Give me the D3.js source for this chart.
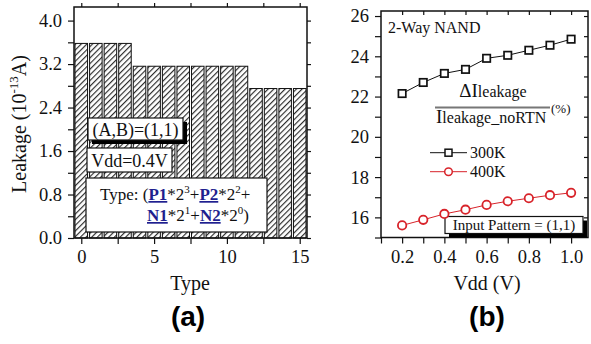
<!DOCTYPE html>
<html>
<head>
<meta charset="utf-8">
<script src="https://cdn.jsdelivr.net/npm/d3@7"></script>
<style>
  html, body { margin: 0; padding: 0; background: #fff; }
  svg { display: block; }
</style>
</head>
<body>
<script>
// ---- Panel (a): leakage per input type ----
const types = d3.range(16);
const leakage = [3.58, 3.58, 3.58, 3.58, 3.16, 3.16, 3.16, 3.16,
                 3.16, 3.16, 3.16, 3.16, 2.75, 2.75, 2.75, 2.75];
const typeTickLabels = [0, 5, 10, 15];
const leakTickLabels = ["0.0", "0.8", "1.6", "2.4", "3.2", "4.0"];

// ---- Panel (b): relative leakage change vs. Vdd ----
const vdd = [0.2, 0.3, 0.4, 0.5, 0.6, 0.7, 0.8, 0.9, 1.0];
const delta300K = [22.15, 22.7, 23.15, 23.35, 23.9, 24.05, 24.3, 24.55, 24.85];
const delta400K = [15.6, 15.88, 16.17, 16.38, 16.62, 16.8, 16.95, 17.1, 17.22];
const vddTickLabels = ["0.2", "0.4", "0.6", "0.8", "1.0"];
const deltaTickLabels = [16, 18, 20, 22, 24, 26];

const SERIF = "'Liberation Serif', 'Times New Roman', serif";
const SANS = "'Liberation Sans', Arial, sans-serif";
const W = 591, H = 344;
const svg = d3.select("body").append("svg").attr("width", W).attr("height", H);
svg.append("rect").attr("width", W).attr("height", H).attr("fill", "#fff");

const defs = svg.append("defs");
const HS = 4;
const hatch = defs.append("pattern")
  .attr("id", "hatch").attr("patternUnits", "userSpaceOnUse")
  .attr("width", HS).attr("height", HS)
  .attr("patternTransform", "rotate(45)");
hatch.append("rect").attr("width", HS).attr("height", HS).attr("fill", "#fff");
hatch.append("line").attr("x1", 0.6).attr("y1", 0).attr("x2", 0.6).attr("y2", HS)
  .attr("stroke", "#222").attr("stroke-width", 1.1);

const NAVY = "#1f1f8f";
const RED = "#d8232a";

// ================= Panel (a) =================
const ax = { l: 74, r: 307, t: 7, b: 238 };
const xA = d3.scaleLinear().domain([-0.5, 15.5]).range([ax.l, ax.r]);
const yA = d3.scaleLinear().domain([0, 4.25]).range([ax.b, ax.t]);
const gA = svg.append("g");

const barW = (xA(1) - xA(0)) * 0.86;
gA.selectAll("rect.bar").data(types).join("rect")
  .attr("class", "bar")
  .attr("x", d => xA(d) - barW / 2)
  .attr("width", barW)
  .attr("y", d => yA(leakage[d]))
  .attr("height", d => yA(0) - yA(leakage[d]))
  .attr("fill", "url(#hatch)")
  .attr("stroke", "#111").attr("stroke-width", 1);

function styleAxis(g) {
  g.select(".domain").remove();
  g.selectAll(".tick line").attr("stroke", "#111").attr("stroke-width", 1.2);
  g.selectAll(".tick text").attr("font-size", 18.5).attr("fill", "#111");
}

// bottom axis: labels every 5, ticks every 2.5
gA.append("g").attr("transform", `translate(0,${ax.b})`)
  .call(d3.axisBottom(xA).tickValues(d3.range(0, 15.01, 2.5)).tickSize(6).tickPadding(6)
    .tickFormat(d => typeTickLabels.includes(d) ? d : ""))
  .call(styleAxis);
gA.append("g").attr("transform", `translate(0,${ax.t})`)
  .call(d3.axisTop(xA).tickValues(d3.range(0, 15.01, 2.5)).tickSize(4).tickFormat(""))
  .call(styleAxis);
// left axis: labels every 0.8, ticks every 0.4
gA.append("g").attr("transform", `translate(${ax.l},0)`)
  .call(d3.axisLeft(yA).tickValues(d3.range(0, 4.01, 0.4)).tickSize(6).tickPadding(6)
    .tickFormat(d => {
      const s = d.toFixed(1);
      return leakTickLabels.includes(s) && Math.abs(d / 0.8 - Math.round(d / 0.8)) < 1e-6 ? s : "";
    }))
  .call(styleAxis);
gA.append("g").attr("transform", `translate(${ax.r},0)`)
  .call(d3.axisRight(yA).tickValues(d3.range(0, 4.01, 0.4)).tickSize(4).tickFormat(""))
  .call(styleAxis);
gA.append("rect").attr("x", ax.l).attr("y", ax.t)
  .attr("width", ax.r - ax.l).attr("height", ax.b - ax.t)
  .attr("fill", "none").attr("stroke", "#111").attr("stroke-width", 1.5);

// annotation boxes
function box(g, x, y, w, h, shadow) {
  if (shadow) g.append("rect").attr("x", x + 4).attr("y", y + 4).attr("width", w).attr("height", h).attr("fill", "#000");
  g.append("rect").attr("x", x).attr("y", y).attr("width", w).attr("height", h)
    .attr("fill", "#fff").attr("stroke", "#111").attr("stroke-width", 1.2);
}
box(gA, 88, 118, 95, 22, true);
gA.append("text").attr("x", 135.5).attr("y", 135.5).attr("text-anchor", "middle")
  .attr("font-size", 18).text("(A,B)=(1,1)");
box(gA, 87, 148, 85, 24, false);
gA.append("text").attr("x", 129.5).attr("y", 166.5).attr("text-anchor", "middle")
  .attr("font-size", 18).text("Vdd=0.4V");
box(gA, 86, 178, 181, 54, false);

function typeLine(x, y, parts) {
  const t = gA.append("text").attr("x", x).attr("y", y).attr("font-size", 17);
  parts.forEach(p => {
    const s = t.append("tspan").text(p.t);
    if (p.b) s.attr("font-weight", "bold").attr("fill", NAVY).attr("text-decoration", "underline");
    if (p.sup) s.attr("font-size", 11).attr("dy", -7);
    if (p.after) s.attr("dy", 7);
  });
}
typeLine(100, 200, [
  { t: "Type: (" }, { t: "P1", b: true }, { t: "*2" }, { t: "3", sup: true },
  { t: "+", after: true }, { t: "P2", b: true }, { t: "*2" }, { t: "2", sup: true }, { t: "+", after: true }
]);
typeLine(147, 221, [
  { t: "N1", b: true }, { t: "*2" }, { t: "1", sup: true },
  { t: "+", after: true }, { t: "N2", b: true }, { t: "*2" }, { t: "0", sup: true }, { t: ")", after: true }
]);

// axis titles
gA.append("text").attr("x", 190).attr("y", 290).attr("text-anchor", "middle")
  .attr("font-size", 20).text("Type");
const yl = gA.append("text").attr("transform", `translate(26,124) rotate(-90)`)
  .attr("text-anchor", "middle").attr("font-size", 20);
yl.append("tspan").text("Leakage (10");
yl.append("tspan").attr("font-size", 13).attr("dy", -8).text("-13");
yl.append("tspan").attr("dy", 8).text("A)");

// ================= Panel (b) =================
const bx = { l: 381, r: 588, t: 11, b: 237.5 };
const xB = d3.scaleLinear().domain([0.1, 1.08]).range([bx.l, bx.r]);
const yB = d3.scaleLinear().domain([15, 26.25]).range([bx.b, bx.t]);
const gB = svg.append("g");

gB.append("g").attr("transform", `translate(0,${bx.b})`)
  .call(d3.axisBottom(xB).tickValues(d3.range(0.1, 1.051, 0.1).map(v => +v.toFixed(1))).tickSize(6).tickPadding(6)
    .tickFormat(d => vddTickLabels.includes(d.toFixed(1)) ? d.toFixed(1) : ""))
  .call(styleAxis);
gB.append("g").attr("transform", `translate(0,${bx.t})`)
  .call(d3.axisBottom(xB).tickValues(d3.range(0.2, 1.051, 0.1).map(v => +v.toFixed(1))).tickSize(4).tickFormat(""))
  .call(styleAxis);
gB.append("g").attr("transform", `translate(${bx.l},0)`)
  .call(d3.axisLeft(yB).tickValues(d3.range(15, 26.01, 1)).tickSize(6).tickPadding(6)
    .tickFormat(d => deltaTickLabels.includes(d) ? d : ""))
  .call(styleAxis);
gB.append("g").attr("transform", `translate(${bx.r},0)`)
  .call(d3.axisLeft(yB).tickValues(d3.range(16, 26.01, 1)).tickSize(4).tickFormat(""))
  .call(styleAxis);
gB.append("rect").attr("x", bx.l).attr("y", bx.t)
  .attr("width", bx.r - bx.l).attr("height", bx.b - bx.t)
  .attr("fill", "none").attr("stroke", "#111").attr("stroke-width", 1.5);

gB.append("text").attr("x", 388).attr("y", 33).attr("font-size", 16).text("2-Way NAND");

// fraction label
const num = gB.append("text").attr("x", 493).attr("y", 97).attr("text-anchor", "middle");
num.append("tspan").attr("font-size", 19).text("ΔI");
num.append("tspan").attr("font-size", 16).text("leakage");
gB.append("line").attr("x1", 435).attr("x2", 550).attr("y1", 107.5).attr("y2", 107.5)
  .attr("stroke", "#777").attr("stroke-width", 1.8);
const den = gB.append("text").attr("x", 436).attr("y", 123);
den.append("tspan").attr("font-size", 19).text("I");
den.append("tspan").attr("font-size", 16).text("leakage_noRTN");
gB.append("text").attr("x", 551).attr("y", 113).attr("font-size", 13).text("(%)");

// series
const line = d3.line().x((d, i) => xB(vdd[i])).y(d => yB(d));
gB.append("path").datum(delta300K).attr("d", line)
  .attr("fill", "none").attr("stroke", "#111").attr("stroke-width", 1);
gB.append("path").datum(delta400K).attr("d", line)
  .attr("fill", "none").attr("stroke", RED).attr("stroke-width", 1);
const sq = 7.4;
gB.selectAll("rect.m300").data(delta300K).join("rect").attr("class", "m300")
  .attr("x", (d, i) => xB(vdd[i]) - sq / 2).attr("y", d => yB(d) - sq / 2)
  .attr("width", sq).attr("height", sq)
  .attr("fill", "#fff").attr("stroke", "#111").attr("stroke-width", 1.7);

// input pattern box (drawn under the red markers)
box(gB, 445, 216.5, 138, 17, true);
gB.append("text").attr("x", 514).attr("y", 230).attr("text-anchor", "middle")
  .attr("font-size", 15).text("Input Pattern = (1,1)");

gB.selectAll("circle.m400").data(delta400K).join("circle").attr("class", "m400")
  .attr("cx", (d, i) => xB(vdd[i])).attr("cy", d => yB(d)).attr("r", 4.2)
  .attr("fill", "#fff").attr("stroke", RED).attr("stroke-width", 1.8);

// legend
const lg = [{ name: "300K", c: "#111", shape: "sq", y: 152.7 }, { name: "400K", c: RED, shape: "ci", y: 171.7 }];
lg.forEach(e => {
  gB.append("line").attr("x1", 430).attr("x2", 467).attr("y1", e.y).attr("y2", e.y)
    .attr("stroke", e.c).attr("stroke-width", 1);
  if (e.shape === "sq") {
    gB.append("rect").attr("x", 448.5 - 3.5).attr("y", e.y - 3.5).attr("width", 7).attr("height", 7)
      .attr("fill", "#fff").attr("stroke", e.c).attr("stroke-width", 1.5);
  } else {
    gB.append("circle").attr("cx", 448.5).attr("cy", e.y).attr("r", 3.8)
      .attr("fill", "#fff").attr("stroke", e.c).attr("stroke-width", 1.5);
  }
  gB.append("text").attr("x", 470).attr("y", e.y + 5.5).attr("font-size", 16).text(e.name);
});

gB.append("text").attr("x", 487).attr("y", 290).attr("text-anchor", "middle")
  .attr("font-size", 20).text("Vdd (V)");

// every text so far is set in a Times-like serif
svg.selectAll("text").style("font-family", SERIF).style("fill", function () {
  return this.getAttribute("fill") || "#111";
});

// panel tags
svg.append("text").attr("x", 188).attr("y", 326).attr("text-anchor", "middle")
  .style("font-family", SANS).style("font-weight", "bold").attr("font-size", 28).text("(a)");
svg.append("text").attr("x", 487).attr("y", 326).attr("text-anchor", "middle")
  .style("font-family", SANS).style("font-weight", "bold").attr("font-size", 28).text("(b)");
</script>
</body>
</html>
